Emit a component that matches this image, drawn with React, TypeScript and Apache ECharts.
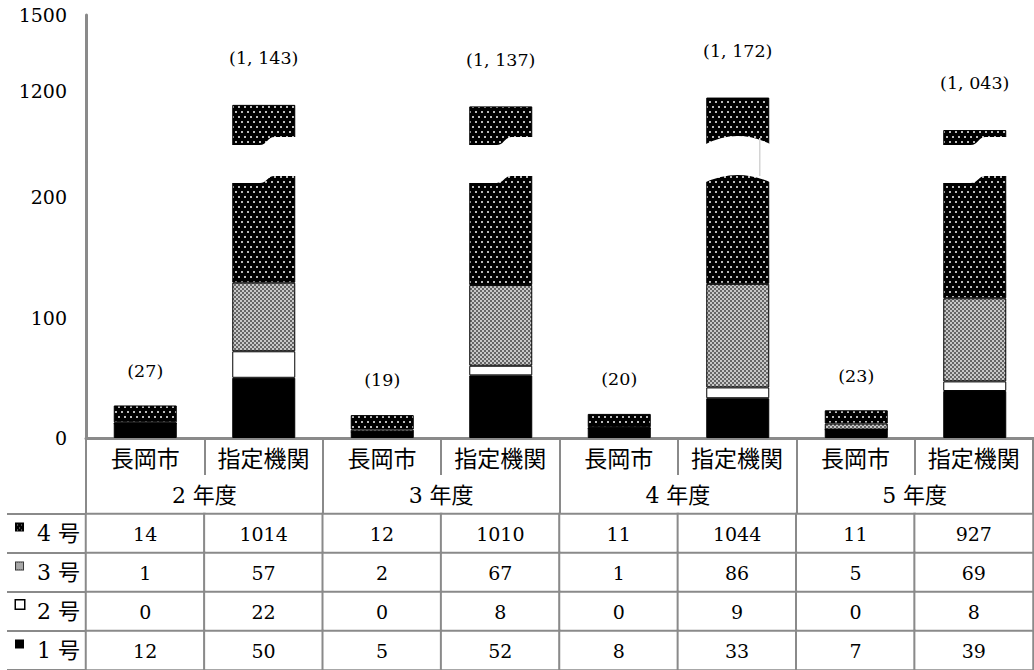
import React, { useEffect, useRef } from 'react';
import * as echarts from 'echarts';

// ---- data ----
const categories = ['長岡市', '指定機関', '長岡市', '指定機関', '長岡市', '指定機関', '長岡市', '指定機関'];
const years = ['2 年度', '3 年度', '4 年度', '5 年度'];
const rowLabels = ['4 号', '3 号', '2 号', '1 号'];
const kyu4 = [14, 1014, 12, 1010, 11, 1044, 11, 927];
const kyu3 = [1, 57, 2, 67, 1, 86, 5, 69];
const kyu2 = [0, 22, 0, 8, 0, 9, 0, 8];
const kyu1 = [12, 50, 5, 52, 8, 33, 7, 39];
const lowerTicks = [0, 100, 200];
const upperTicks = [1200, 1500];
const lowerRange = [0, 230];
const upperRange = [920, 1500];
const breakKinds = ['s', 's', 'arch', 's'];

const SERIF = "'DejaVu Serif', 'Noto Sans CJK JP', serif";
const CJK = "'Noto Sans CJK JP', sans-serif";
const GRAY = '#8a8a8a';

function tile(w: number, h: number, draw: (ctx: CanvasRenderingContext2D) => void) {
  const c = document.createElement('canvas');
  c.width = w;
  c.height = h;
  const ctx = c.getContext('2d')!;
  draw(ctx);
  return c.toDataURL();
}

function fmtTotal(t: number) {
  if (t >= 1000) return `(${Math.floor(t / 1000)}, ${String(t % 1000).padStart(3, '0')})`;
  return `(${t})`;
}

export default function App() {
  const ref = useRef<HTMLDivElement>(null);

  useEffect(() => {
    if (!ref.current) return;
    const dotUrl = tile(6, 10, (ctx) => {
      ctx.fillStyle = '#000';
      ctx.fillRect(0, 0, 6, 10);
      ctx.fillStyle = '#bbbbbb';
      ctx.fillRect(1, 1, 2, 2);
      ctx.fillRect(4, 6, 2, 2);
    });
    const checkUrl = tile(4, 4, (ctx) => {
      ctx.fillStyle = '#666666';
      ctx.fillRect(0, 0, 4, 4);
      ctx.fillStyle = '#c8c8c8';
      ctx.fillRect(0, 0, 2, 2);
      ctx.fillRect(2, 2, 2, 2);
    });
    const key4Url = tile(9, 9, (ctx) => {
      ctx.fillStyle = '#000';
      ctx.fillRect(0, 0, 9, 9);
      ctx.fillStyle = '#aaaaaa';
      ctx.fillRect(2, 2, 1, 1);
      ctx.fillRect(6, 2, 1, 1);
      ctx.fillRect(4, 5, 1, 1);
      ctx.fillRect(2, 7, 1, 1);
      ctx.fillRect(6, 7, 1, 1);
    });
    const key3Url = tile(9, 9, (ctx) => {
      ctx.fillStyle = '#333';
      ctx.fillRect(0, 0, 9, 9);
      ctx.fillStyle = '#888';
      ctx.fillRect(1, 1, 7, 7);
      ctx.fillStyle = '#c8c8c8';
      for (let y = 1; y < 8; y++) for (let x = 1; x < 8; x++) if ((x + y) % 2 === 0) ctx.fillRect(x, y, 1, 1);
    });

    const dotPattern = { image: dotUrl, repeat: 'repeat', imageWidth: 6, imageHeight: 10 };
    const checkPattern = { image: checkUrl, repeat: 'repeat', imageWidth: 4, imageHeight: 4 };

    const totals = kyu1.map((v, i) => v + kyu2[i] + kyu3[i] + kyu4[i]);

    const stackDefs = [
      { name: '１号', data: kyu1, fill: '#000000' as any },
      { name: '２号', data: kyu2, fill: '#ffffff' as any },
      { name: '３号', data: kyu3, fill: checkPattern as any },
      { name: '４号', data: kyu4, fill: dotPattern as any },
    ];

    const barSeries: any[] = [];
    [0, 1].forEach((g) => {
      stackDefs.forEach((def, si) => {
        const isTop = si === stackDefs.length - 1;
        barSeries.push({
          type: 'bar',
          name: def.name,
          xAxisIndex: g,
          yAxisIndex: g,
          stack: 'g' + g,
          barWidth: 63,
          clip: true,
          silent: true,
          data: def.data.map((v, i) => ({
            value: v,
            label: { show: isTop && (g === 0 ? i % 2 === 0 : i % 2 === 1) },
          })),
          itemStyle: { color: def.fill, borderColor: '#000', borderWidth: 1 },
          label: {
            show: false,
            position: 'top',
            distance: g === 0 ? 26 : 38,
            formatter: (p: any) => fmtTotal(totals[p.dataIndex]),
            fontFamily: SERIF,
            fontSize: 17.5,
            color: '#000',
          },
        });
      });
    });

    const breakSeries = {
      type: 'custom',
      xAxisIndex: 1,
      yAxisIndex: 1,
      z: 10,
      silent: true,
      clip: false,
      data: breakKinds.map((k, i) => [2 * i + 1, k === 'arch' ? 1 : 0]),
      renderItem: (params: any, api: any) => {
        const idx = api.value(0);
        const kind = api.value(1);
        const pt = api.coord([idx, upperRange[0]]);
        const cx = pt[0];
        const ys = pt[1];
        const half = 34;
        const x0 = cx - half;
        const x1 = cx + half;
        const w = x1 - x0;
        if (kind === 1) {
          const uE = ys - 16;
          const uM = ys - 25;
          const lE = ys + 22;
          const lM = ys + 14;
          const xm = cx;
          const d = `M${x0},${uE} Q${xm},${2 * uM - uE} ${x1},${uE} L${x1},${lE} Q${xm},${2 * lM - lE} ${x0},${lE} Z`;
          return {
            type: 'group',
            children: [
              { type: 'path', shape: { pathData: d }, style: { fill: '#ffffff' } },
              {
                type: 'line',
                shape: { x1: cx + 22, y1: uM + 2, x2: cx + 22, y2: lM + 1 },
                style: { stroke: '#d4d4d4', lineWidth: 1.5 },
              },
            ],
          };
        }
        const uL = ys - 16;
        const uR = ys - 24;
        const lL = ys + 22;
        const lR = ys + 15;
        const xa = x0 + 0.44 * w;
        const xb = x0 + 0.66 * w;
        const xm = (xa + xb) / 2;
        const d =
          `M${x0},${uL} L${xa},${uL} C${xm},${uL} ${xm},${uR} ${xb},${uR} L${x1},${uR} ` +
          `L${x1},${lR} L${xb},${lR} C${xm},${lR} ${xm},${lL} ${xa},${lL} L${x0},${lL} Z`;
        return { type: 'path', shape: { pathData: d }, style: { fill: '#ffffff' } };
      },
    };

    const heatData: any[] = [];
    [kyu4, kyu3, kyu2, kyu1].forEach((row, ri) => row.forEach((v, ci) => heatData.push([ci, ri, v])));

    const heatSeries = {
      type: 'heatmap',
      xAxisIndex: 2,
      yAxisIndex: 2,
      data: heatData,
      silent: true,
      itemStyle: { borderColor: GRAY, borderWidth: 2 },
      label: {
        show: true,
        formatter: (p: any) => String(p.value[2]),
        fontFamily: SERIF,
        fontSize: 19,
        color: '#000',
      },
      emphasis: { disabled: true },
    };

    const series = [...barSeries, breakSeries, heatSeries];
    const heatIndex = series.length - 1;

    const yLabel = { fontFamily: SERIF, fontSize: 19, color: '#000', margin: 19, formatter: (v: number) => String(v) };

    const option: any = {
      animation: false,
      textStyle: { fontFamily: SERIF },
      grid: [
        { left: 86, top: 161, width: 958, height: 277 },
        { left: 86, top: 15, width: 958, height: 146 },
        { left: 86, top: 514, width: 947, height: 157 },
      ],
      xAxis: [
        {
          type: 'category',
          gridIndex: 0,
          data: categories,
          axisLine: { show: true, lineStyle: { color: GRAY, width: 3 } },
          axisTick: { show: false },
          axisLabel: { show: false },
        },
        { type: 'category', gridIndex: 1, data: categories, show: false },
        {
          type: 'category',
          gridIndex: 2,
          position: 'top',
          offset: 39,
          data: categories,
          axisLine: { show: false },
          axisTick: { show: true, interval: 0, length: 38, lineStyle: { color: GRAY, width: 2 } },
          axisLabel: { interval: 0, margin: 7, fontFamily: CJK, fontSize: 23, color: '#000' },
        },
        {
          type: 'category',
          gridIndex: 2,
          position: 'top',
          offset: 0,
          data: years,
          axisLine: { show: true, lineStyle: { color: GRAY, width: 2 } },
          axisTick: { show: true, interval: 0, length: 39, lineStyle: { color: GRAY, width: 2 } },
          axisLabel: { interval: 0, margin: 8, fontFamily: SERIF, fontSize: 22, color: '#000' },
        },
      ],
      yAxis: [
        {
          type: 'value',
          gridIndex: 0,
          min: lowerRange[0],
          max: lowerRange[1],
          axisLine: { show: true, lineStyle: { color: GRAY, width: 3 } },
          axisTick: { show: false },
          splitLine: { show: false },
          axisLabel: { ...yLabel, customValues: lowerTicks },
        },
        {
          type: 'value',
          gridIndex: 1,
          min: upperRange[0],
          max: upperRange[1],
          axisLine: { show: true, lineStyle: { color: GRAY, width: 3 } },
          axisTick: { show: false },
          splitLine: { show: false },
          axisLabel: { ...yLabel, customValues: upperTicks },
        },
        {
          type: 'category',
          gridIndex: 2,
          inverse: true,
          data: rowLabels,
          axisLine: { show: true, lineStyle: { color: GRAY, width: 2 } },
          axisTick: { show: true, interval: 0, length: 79, lineStyle: { color: GRAY, width: 2 } },
          axisLabel: {
            interval: 0,
            margin: 6,
            formatter: (v: string, i: number) => `{b${i}|}{sp|}{t|${v}}`,
            rich: {
              b0: { width: 9, height: 9, verticalAlign: 'top', backgroundColor: { image: key4Url } },
              b1: { width: 9, height: 9, verticalAlign: 'top', backgroundColor: { image: key3Url } },
              b2: { width: 8, height: 8, verticalAlign: 'top', backgroundColor: '#fff', borderColor: '#000', borderWidth: 1.5 },
              b3: { width: 9, height: 9, verticalAlign: 'top', backgroundColor: '#000' },
              sp: { width: 13 },
              t: { fontFamily: SERIF, fontSize: 22, color: '#000' },
            },
          },
        },
        {
          type: 'category',
          gridIndex: 2,
          inverse: true,
          data: rowLabels,
          offset: 79,
          axisLine: { show: true, lineStyle: { color: GRAY, width: 2 } },
          axisTick: { show: false },
          axisLabel: { show: false },
        },
      ],
      visualMap: [
        {
          type: 'continuous',
          show: false,
          seriesIndex: heatIndex,
          dimension: 2,
          min: 0,
          max: 100000,
          inRange: { color: ['#ffffff', '#ffffff'] },
        },
      ],
      series,
    };

    const chart = echarts.init(ref.current, null, { renderer: 'svg' });
    chart.setOption(option);
    return () => chart.dispose();
  }, []);

  return (
    <div
      ref={ref}
      style={{ position: 'absolute', left: 0, top: 0, width: 1034, height: 670, background: '#fff' }}
    />
  );
}
